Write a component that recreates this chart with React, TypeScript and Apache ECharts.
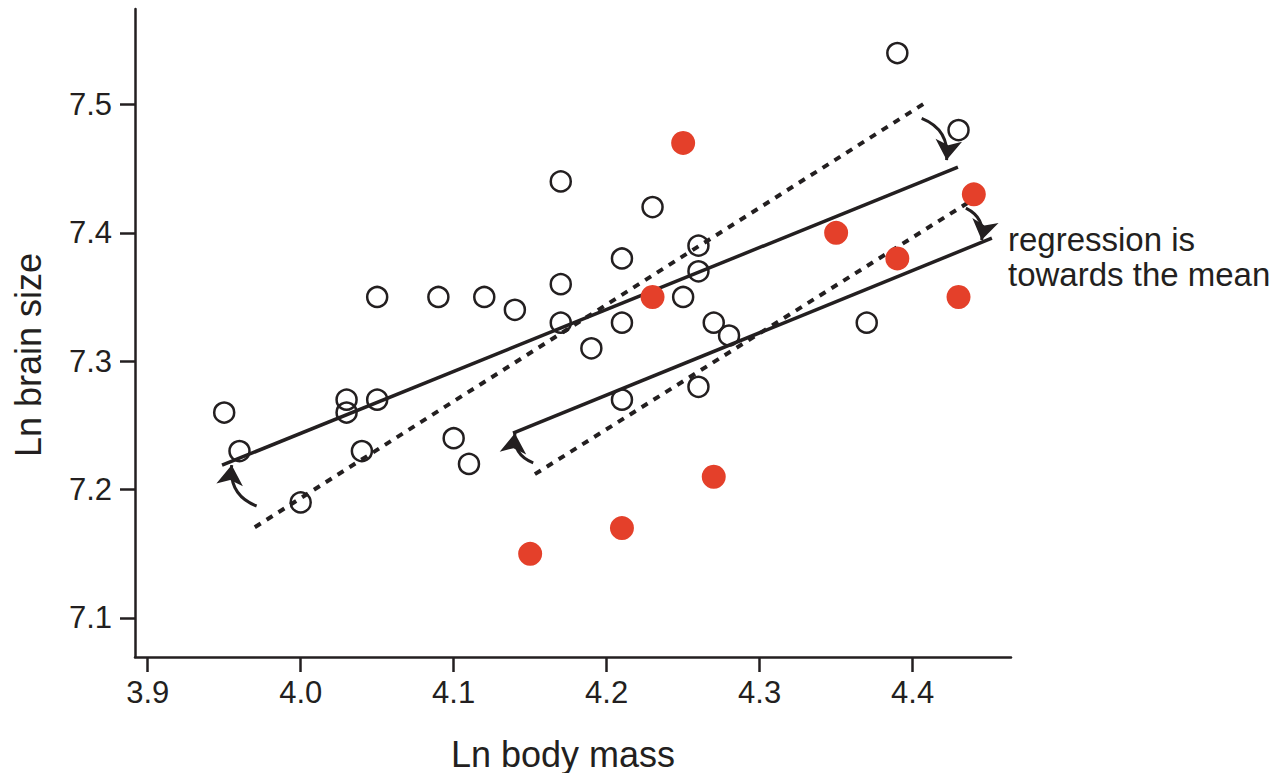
import React, { useEffect, useRef } from "react";
import * as echarts from "echarts";

const INK = "#231f20";
const RED = "#e4402a";
const FONT = "'Liberation Sans', Arial, Helvetica, sans-serif";

const xTicks = [3.9, 4.0, 4.1, 4.2, 4.3, 4.4];
const yTicks = [7.1, 7.2, 7.3, 7.4, 7.5];

// open circles (Ln body mass, Ln brain size)
const openPoints: number[][] = [
  [3.95, 7.26], [3.96, 7.23], [4.0, 7.19], [4.03, 7.27], [4.03, 7.26],
  [4.05, 7.27], [4.04, 7.23], [4.05, 7.35], [4.09, 7.35], [4.1, 7.24],
  [4.11, 7.22], [4.12, 7.35], [4.14, 7.34], [4.17, 7.44], [4.17, 7.36],
  [4.17, 7.33], [4.19, 7.31], [4.21, 7.38], [4.21, 7.33], [4.21, 7.27],
  [4.23, 7.42], [4.25, 7.35], [4.26, 7.39], [4.26, 7.37], [4.26, 7.28],
  [4.27, 7.33], [4.28, 7.32], [4.37, 7.33], [4.39, 7.54], [4.43, 7.48],
];

// filled red dots
const redPoints: number[][] = [
  [4.25, 7.47], [4.23, 7.35], [4.15, 7.15], [4.21, 7.17], [4.27, 7.21],
  [4.35, 7.4], [4.39, 7.38], [4.44, 7.43], [4.43, 7.35],
];

// regression lines (end points)
const solidUpper = [[3.9486, 7.219], [4.4296, 7.4511]];
const dashedUpper = [[3.97, 7.1707], [4.408, 7.501]];
const solidLower = [[4.1388, 7.2439], [4.4518, 7.3958]];
const dashedLower = [[4.1531, 7.212], [4.4388, 7.4254]];

// curved arrows: [tail, tip]
const arrows = [
  [[4.4059, 7.4891], [4.4222, 7.4566]],
  [[4.4348, 7.4192], [4.4451, 7.3943]],
  [[3.9712, 7.1872], [3.9549, 7.2191]],
  [[4.152, 7.2208], [4.14, 7.2439]],
];

const annotation = ["regression is", "towards the mean"];

export default function App() {
  const ref = useRef<HTMLDivElement>(null);
  useEffect(() => {
    if (!ref.current) return;
    const chart = echarts.init(ref.current, null, { renderer: "svg" });
    const lineSeries = (data: number[][], dashed: boolean) => ({
      type: "line",
      data,
      symbol: "none",
      silent: true,
      z: 3,
      lineStyle: dashed
        ? { color: INK, width: 4, type: [7, 7], cap: "butt" }
        : { color: INK, width: 3.5 },
    });
    chart.setOption({
      animation: false,
      grid: { left: 135, right: 273, top: 9, bottom: 116 },
      xAxis: {
        type: "value",
        min: 3.8917,
        max: 4.4643,
        splitLine: { show: false },
        axisLine: { show: true, onZero: false, lineStyle: { color: INK, width: 2.5 } },
        axisTick: { show: true, customValues: xTicks, length: 15, lineStyle: { color: INK, width: 2.5 } },
        axisLabel: {
          customValues: xTicks,
          formatter: (v: number) => v.toFixed(1),
          fontSize: 31,
          color: INK,
          fontFamily: FONT,
          margin: 20,
        },
      },
      yAxis: {
        type: "value",
        min: 7.0696,
        max: 7.5743,
        splitLine: { show: false },
        axisLine: { show: true, onZero: false, lineStyle: { color: INK, width: 2.5 } },
        axisTick: { show: true, customValues: yTicks, length: 15, lineStyle: { color: INK, width: 2.5 } },
        axisLabel: {
          customValues: yTicks,
          formatter: (v: number) => v.toFixed(1),
          fontSize: 31,
          color: INK,
          fontFamily: FONT,
          margin: 23,
        },
      },
      series: [
        lineSeries(solidUpper, false),
        lineSeries(dashedUpper, true),
        lineSeries(solidLower, false),
        lineSeries(dashedLower, true),
        {
          type: "lines",
          coordinateSystem: "cartesian2d",
          silent: true,
          z: 4,
          symbol: ["none", "arrow"],
          symbolSize: 20,
          lineStyle: { color: INK, width: 3, curveness: 0.38, opacity: 1 },
          data: arrows.map((a) => ({ coords: a })),
        },
        {
          type: "scatter",
          data: openPoints,
          symbol: "circle",
          symbolSize: 20,
          silent: true,
          z: 5,
          itemStyle: { color: "rgba(0,0,0,0)", borderColor: INK, borderWidth: 2.5, opacity: 1 },
        },
        {
          type: "scatter",
          data: redPoints,
          symbol: "circle",
          symbolSize: 24,
          silent: true,
          z: 5,
          itemStyle: { color: RED, opacity: 1 },
        },
      ],
      graphic: [
        {
          type: "text",
          x: 563,
          y: 754,
          style: {
            text: "Ln body mass",
            fontSize: 36,
            fontFamily: FONT,
            fill: INK,
            textAlign: "center",
            textVerticalAlign: "middle",
          },
        },
        {
          type: "text",
          x: 28,
          y: 355,
          rotation: Math.PI / 2,
          style: {
            text: "Ln brain size",
            fontSize: 36,
            fontFamily: FONT,
            fill: INK,
            textAlign: "center",
            textVerticalAlign: "middle",
          },
        },
        {
          type: "text",
          x: 1008,
          y: 239,
          style: {
            text: annotation[0],
            fontSize: 33,
            fontFamily: FONT,
            fill: INK,
            textAlign: "left",
            textVerticalAlign: "middle",
          },
        },
        {
          type: "text",
          x: 1008,
          y: 274,
          style: {
            text: annotation[1],
            fontSize: 33,
            fontFamily: FONT,
            fill: INK,
            textAlign: "left",
            textVerticalAlign: "middle",
          },
        },
      ],
    });
    return () => chart.dispose();
  }, []);
  return (
    <div
      ref={ref}
      style={{ position: "absolute", left: 0, top: 0, width: 1284, height: 773, background: "#fff" }}
    />
  );
}
